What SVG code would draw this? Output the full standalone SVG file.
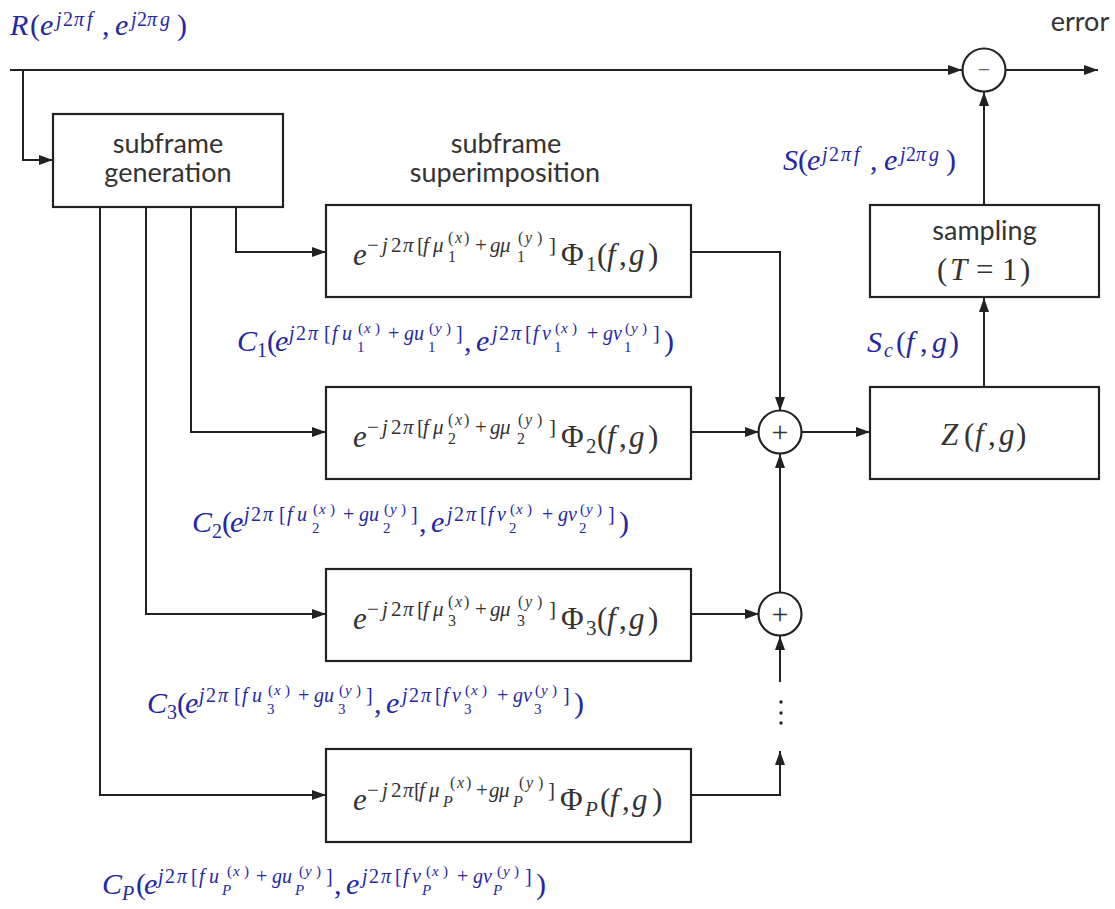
<svg xmlns="http://www.w3.org/2000/svg" width="1115" height="909" viewBox="0 0 1115 909">
<defs>
<marker id="ah" markerUnits="userSpaceOnUse" markerWidth="14" markerHeight="10" refX="14" refY="5" orient="auto">
<path d="M0,0 L14,5 L0,10 z" fill="#222"/>
</marker>
<style>
.ln{fill:none;stroke:#222;stroke-width:2}
.ar{marker-end:url(#ah)}
.box{fill:#fff;stroke:#222;stroke-width:2.2}
.ss{font-family:Lato,"Open Sans",sans-serif;font-size:27px;fill:#333;text-anchor:middle}
.mf{font-family:"Liberation Serif","Times New Roman",serif}
.i{font-style:italic}
.bx{fill:#333}
.bl{fill:#2626a6}
.bL{font-size:31px}
.bS{font-size:21px}
.bT{font-size:16px}
.lL{font-size:30px}
.lS{font-size:20px}
.lT{font-size:15px}
.sg{font-family:"Liberation Serif",serif;text-anchor:middle}
</style>
</defs>
<rect width="1115" height="909" fill="#fff"/>

<g id="connectors">
<path class="ln ar" d="M10,70 H962"/>
<path class="ln ar" d="M23,70 V160 H53"/>
<path class="ln ar" d="M1006,70 H1098"/>
<path class="ln ar" d="M984,205 V92"/>
<path class="ln ar" d="M984,387 V298"/>
<path class="ln ar" d="M802,432 H870"/>
<path class="ln ar" d="M691,252 H780 V411"/>
<path class="ln ar" d="M691,432 H759"/>
<path class="ln ar" d="M780,593 V454"/>
<path class="ln ar" d="M691,614 H759"/>
<path class="ln ar" d="M780,682 V636"/>
<path class="ln ar" d="M691,795 H780 V751"/>
<path class="ln ar" d="M236,207 V252 H326"/>
<path class="ln ar" d="M191,207 V432 H326"/>
<path class="ln ar" d="M146,207 V614 H326"/>
<path class="ln ar" d="M100,207 V795 H326"/>
<circle cx="781" cy="702" r="1.7" fill="#222"/>
<circle cx="781" cy="713" r="1.7" fill="#222"/>
<circle cx="781" cy="723" r="1.7" fill="#222"/>
</g>

<g id="node-generation">
<rect class="box" x="53" y="114" width="230" height="93"/>
<text class="ss"><tspan x="168" y="153">subframe</tspan><tspan x="168" y="182">generation</tspan></text>
</g>

<g id="heading-superimposition">
<text class="ss"><tspan x="506" y="153">subframe</tspan><tspan x="505" y="182">superimposition</tspan></text>
</g>

<g id="node-phi1">
<rect class="box" x="326" y="205" width="365" height="92"/>
<text class="mf bx"><tspan class="bL i" x="353" y="265">e</tspan><tspan class="bS" x="367" y="252">−</tspan><tspan class="bS i" x="382" y="252">j</tspan><tspan class="bS" x="391" y="252">2</tspan><tspan class="bS i" x="403" y="252">π</tspan><tspan class="bS" x="417" y="252">[</tspan><tspan class="bS i" x="423 433" y="252">fμ</tspan><tspan class="bT" x="448" y="262">1</tspan><tspan class="bT" x="448" y="243">(</tspan><tspan class="bT i" x="455" y="243">x</tspan><tspan class="bT" x="464" y="243">)</tspan><tspan class="bS" x="475" y="252">+</tspan><tspan class="bS i" x="490 500" y="252">gμ</tspan><tspan class="bT" x="517" y="262">1</tspan><tspan class="bT" x="518" y="243">(</tspan><tspan class="bT i" x="525" y="243">y</tspan><tspan class="bT" x="537" y="243">)</tspan><tspan class="bS" x="549" y="252">]</tspan><tspan class="bL" x="561" y="265">Φ</tspan><tspan class="bS" x="586" y="271">1</tspan><tspan class="bL" x="597" y="265">(</tspan><tspan class="bL i" x="607" y="265">f</tspan><tspan class="bL" x="619" y="265">,</tspan><tspan class="bL i" x="629" y="265">g</tspan><tspan class="bL" x="648" y="265">)</tspan></text>
</g>

<g id="node-phi2">
<rect class="box" x="326" y="387" width="365" height="92"/>
<text class="mf bx" transform="translate(0,182)"><tspan class="bL i" x="353" y="265">e</tspan><tspan class="bS" x="367" y="252">−</tspan><tspan class="bS i" x="382" y="252">j</tspan><tspan class="bS" x="391" y="252">2</tspan><tspan class="bS i" x="403" y="252">π</tspan><tspan class="bS" x="417" y="252">[</tspan><tspan class="bS i" x="423 433" y="252">fμ</tspan><tspan class="bT" x="448" y="262">2</tspan><tspan class="bT" x="448" y="243">(</tspan><tspan class="bT i" x="455" y="243">x</tspan><tspan class="bT" x="464" y="243">)</tspan><tspan class="bS" x="475" y="252">+</tspan><tspan class="bS i" x="490 500" y="252">gμ</tspan><tspan class="bT" x="517" y="262">2</tspan><tspan class="bT" x="518" y="243">(</tspan><tspan class="bT i" x="525" y="243">y</tspan><tspan class="bT" x="537" y="243">)</tspan><tspan class="bS" x="549" y="252">]</tspan><tspan class="bL" x="561" y="265">Φ</tspan><tspan class="bS" x="586" y="271">2</tspan><tspan class="bL" x="597" y="265">(</tspan><tspan class="bL i" x="607" y="265">f</tspan><tspan class="bL" x="619" y="265">,</tspan><tspan class="bL i" x="629" y="265">g</tspan><tspan class="bL" x="648" y="265">)</tspan></text>
</g>

<g id="node-phi3">
<rect class="box" x="326" y="569" width="365" height="92"/>
<text class="mf bx" transform="translate(0,364)"><tspan class="bL i" x="353" y="265">e</tspan><tspan class="bS" x="367" y="252">−</tspan><tspan class="bS i" x="382" y="252">j</tspan><tspan class="bS" x="391" y="252">2</tspan><tspan class="bS i" x="403" y="252">π</tspan><tspan class="bS" x="417" y="252">[</tspan><tspan class="bS i" x="423 433" y="252">fμ</tspan><tspan class="bT" x="448" y="262">3</tspan><tspan class="bT" x="448" y="243">(</tspan><tspan class="bT i" x="455" y="243">x</tspan><tspan class="bT" x="464" y="243">)</tspan><tspan class="bS" x="475" y="252">+</tspan><tspan class="bS i" x="490 500" y="252">gμ</tspan><tspan class="bT" x="517" y="262">3</tspan><tspan class="bT" x="518" y="243">(</tspan><tspan class="bT i" x="525" y="243">y</tspan><tspan class="bT" x="537" y="243">)</tspan><tspan class="bS" x="549" y="252">]</tspan><tspan class="bL" x="561" y="265">Φ</tspan><tspan class="bS" x="586" y="271">3</tspan><tspan class="bL" x="597" y="265">(</tspan><tspan class="bL i" x="607" y="265">f</tspan><tspan class="bL" x="619" y="265">,</tspan><tspan class="bL i" x="629" y="265">g</tspan><tspan class="bL" x="648" y="265">)</tspan></text>
</g>

<g id="node-phiP">
<rect class="box" x="326" y="749" width="365" height="93"/>
<text class="mf bx" transform="translate(0,545)"><tspan class="bL i" x="353" y="265">e</tspan><tspan class="bS" x="367" y="252">−</tspan><tspan class="bS i" x="382" y="252">j</tspan><tspan class="bS" x="391" y="252">2</tspan><tspan class="bS i" x="403" y="252">π</tspan><tspan class="bS" x="414" y="252">[</tspan><tspan class="bS i" x="419 429" y="252">fμ</tspan><tspan class="bT i" x="443" y="262">P</tspan><tspan class="bT" x="450" y="243">(</tspan><tspan class="bT i" x="457" y="243">x</tspan><tspan class="bT" x="466" y="243">)</tspan><tspan class="bS" x="476" y="252">+</tspan><tspan class="bS i" x="489 499" y="252">gμ</tspan><tspan class="bT i" x="513" y="262">P</tspan><tspan class="bT" x="519" y="243">(</tspan><tspan class="bT i" x="526" y="243">y</tspan><tspan class="bT" x="538" y="243">)</tspan><tspan class="bS" x="548" y="252">]</tspan><tspan class="bL" x="560" y="265">Φ</tspan><tspan class="bS i" x="585" y="271">P</tspan><tspan class="bL" x="600" y="265">(</tspan><tspan class="bL i" x="610" y="265">f</tspan><tspan class="bL" x="622" y="265">,</tspan><tspan class="bL i" x="632" y="265">g</tspan><tspan class="bL" x="652" y="265">)</tspan></text>
</g>

<g id="node-sum1">
<circle class="box" cx="780" cy="432" r="21.5"/>
<text class="sg" x="780" y="442" font-size="30" fill="#333">+</text>
</g>

<g id="node-sum2">
<circle class="box" cx="780" cy="614" r="21.5"/>
<text class="sg" x="780" y="624" font-size="30" fill="#333">+</text>
</g>

<g id="node-Z">
<rect class="box" x="870" y="387" width="229" height="92"/>
<text class="mf bx"><tspan class="bL i" x="941" y="445">Z</tspan><tspan class="bL" x="964" y="445">(</tspan><tspan class="bL i" x="975" y="445">f</tspan><tspan class="bL" x="988" y="445">,</tspan><tspan class="bL i" x="999" y="445">g</tspan><tspan class="bL" x="1016" y="445">)</tspan></text>
</g>

<g id="node-sampling">
<rect class="box" x="870" y="205" width="229" height="92"/>
<text class="ss" x="984.5" y="240">sampling</text>
<text class="mf bx"><tspan class="bL" x="937" y="280">(</tspan><tspan class="bL i" x="950" y="280">T</tspan><tspan class="bL" x="976" y="280">=</tspan><tspan class="bL" x="1002" y="280">1</tspan><tspan class="bL" x="1020" y="280">)</tspan></text>
</g>

<g id="node-minus">
<circle class="box" cx="984" cy="70" r="21.5"/>
<text class="sg" x="984" y="77" font-size="22" fill="#666">−</text>
</g>

<g id="labels">
<text class="ss" x="1080" y="31">error</text>

<text class="mf bl"><tspan class="lL i" x="10" y="35">R</tspan><tspan class="lL" x="30" y="35">(</tspan><tspan class="lL i" x="40" y="35">e</tspan><tspan class="lS i" x="56" y="26">j</tspan><tspan class="lS" x="63" y="26">2</tspan><tspan class="lS i" x="74" y="26">π</tspan><tspan class="lS i" x="87" y="26">f</tspan><tspan class="lL" x="102" y="35">,</tspan><tspan class="lL i" x="115" y="35">e</tspan><tspan class="lS i" x="131" y="26">j</tspan><tspan class="lS" x="137" y="26">2</tspan><tspan class="lS i" x="147" y="26">π</tspan><tspan class="lS i" x="160" y="26">g</tspan><tspan class="lL" x="177" y="35">)</tspan></text>

<text class="mf bl"><tspan class="lL i" x="783" y="170">S</tspan><tspan class="lL" x="798" y="170">(</tspan><tspan class="lL i" x="807" y="170">e</tspan><tspan class="lS i" x="822" y="161">j</tspan><tspan class="lS" x="829" y="161">2</tspan><tspan class="lS i" x="841" y="161">π</tspan><tspan class="lS i" x="854" y="161">f</tspan><tspan class="lL" x="870" y="170">,</tspan><tspan class="lL i" x="884" y="170">e</tspan><tspan class="lS i" x="900" y="161">j</tspan><tspan class="lS" x="906" y="161">2</tspan><tspan class="lS i" x="916" y="161">π</tspan><tspan class="lS i" x="929" y="161">g</tspan><tspan class="lL" x="946" y="170">)</tspan></text>

<text class="mf bl"><tspan class="lL i" x="867" y="352">S</tspan><tspan class="lS i" x="884" y="357">c</tspan><tspan class="lL" x="896" y="352">(</tspan><tspan class="lL i" x="906" y="352">f</tspan><tspan class="lL" x="920" y="352">,</tspan><tspan class="lL i" x="932" y="352">g</tspan><tspan class="lL" x="949" y="352">)</tspan></text>

<text class="mf bl"><tspan class="lL i" x="237" y="351">C</tspan><tspan class="lS" x="257" y="357">1</tspan><tspan class="lL" x="267" y="351">(</tspan><tspan class="lL i" x="275" y="351">e</tspan><tspan class="lS i" x="289" y="340">j</tspan><tspan class="lS" x="296" y="340">2</tspan><tspan class="lS i" x="308" y="340">π</tspan><tspan class="lS" x="324" y="340">[</tspan><tspan class="lS i" x="332 342" y="340">fu</tspan><tspan class="lT" x="357" y="352">1</tspan><tspan class="lT" x="358" y="333">(</tspan><tspan class="lT i" x="364" y="333">x</tspan><tspan class="lT" x="375" y="333">)</tspan><tspan class="lS" x="388" y="340">+</tspan><tspan class="lS i" x="404 414" y="340">gu</tspan><tspan class="lT" x="428" y="352">1</tspan><tspan class="lT" x="429" y="333">(</tspan><tspan class="lT i" x="435" y="333">y</tspan><tspan class="lT" x="446" y="333">)</tspan><tspan class="lS" x="456" y="340">]</tspan><tspan class="lL" x="464" y="351">,</tspan><tspan class="lL i" x="476" y="351">e</tspan><tspan class="lS i" x="492" y="340">j</tspan><tspan class="lS" x="499" y="340">2</tspan><tspan class="lS i" x="511" y="340">π</tspan><tspan class="lS" x="525" y="340">[</tspan><tspan class="lS i" x="533 542" y="340">fv</tspan><tspan class="lT" x="554" y="352">1</tspan><tspan class="lT" x="555" y="333">(</tspan><tspan class="lT i" x="561" y="333">x</tspan><tspan class="lT" x="572" y="333">)</tspan><tspan class="lS" x="587" y="340">+</tspan><tspan class="lS i" x="603 613" y="340">gv</tspan><tspan class="lT" x="624" y="352">1</tspan><tspan class="lT" x="625" y="333">(</tspan><tspan class="lT i" x="631" y="333">y</tspan><tspan class="lT" x="642" y="333">)</tspan><tspan class="lS" x="653" y="340">]</tspan><tspan class="lL" x="664" y="351">)</tspan></text>

<text class="mf bl" transform="translate(-45,181)"><tspan class="lL i" x="237" y="351">C</tspan><tspan class="lS" x="257" y="357">2</tspan><tspan class="lL" x="267" y="351">(</tspan><tspan class="lL i" x="275" y="351">e</tspan><tspan class="lS i" x="289" y="340">j</tspan><tspan class="lS" x="296" y="340">2</tspan><tspan class="lS i" x="308" y="340">π</tspan><tspan class="lS" x="324" y="340">[</tspan><tspan class="lS i" x="332 342" y="340">fu</tspan><tspan class="lT" x="357" y="352">2</tspan><tspan class="lT" x="358" y="333">(</tspan><tspan class="lT i" x="364" y="333">x</tspan><tspan class="lT" x="375" y="333">)</tspan><tspan class="lS" x="388" y="340">+</tspan><tspan class="lS i" x="404 414" y="340">gu</tspan><tspan class="lT" x="428" y="352">2</tspan><tspan class="lT" x="429" y="333">(</tspan><tspan class="lT i" x="435" y="333">y</tspan><tspan class="lT" x="446" y="333">)</tspan><tspan class="lS" x="456" y="340">]</tspan><tspan class="lL" x="464" y="351">,</tspan><tspan class="lL i" x="476" y="351">e</tspan><tspan class="lS i" x="492" y="340">j</tspan><tspan class="lS" x="499" y="340">2</tspan><tspan class="lS i" x="511" y="340">π</tspan><tspan class="lS" x="525" y="340">[</tspan><tspan class="lS i" x="533 542" y="340">fv</tspan><tspan class="lT" x="554" y="352">2</tspan><tspan class="lT" x="555" y="333">(</tspan><tspan class="lT i" x="561" y="333">x</tspan><tspan class="lT" x="572" y="333">)</tspan><tspan class="lS" x="587" y="340">+</tspan><tspan class="lS i" x="603 613" y="340">gv</tspan><tspan class="lT" x="624" y="352">2</tspan><tspan class="lT" x="625" y="333">(</tspan><tspan class="lT i" x="631" y="333">y</tspan><tspan class="lT" x="642" y="333">)</tspan><tspan class="lS" x="653" y="340">]</tspan><tspan class="lL" x="664" y="351">)</tspan></text>

<text class="mf bl" transform="translate(-90,362)"><tspan class="lL i" x="237" y="351">C</tspan><tspan class="lS" x="257" y="357">3</tspan><tspan class="lL" x="267" y="351">(</tspan><tspan class="lL i" x="275" y="351">e</tspan><tspan class="lS i" x="289" y="340">j</tspan><tspan class="lS" x="296" y="340">2</tspan><tspan class="lS i" x="308" y="340">π</tspan><tspan class="lS" x="324" y="340">[</tspan><tspan class="lS i" x="332 342" y="340">fu</tspan><tspan class="lT" x="357" y="352">3</tspan><tspan class="lT" x="358" y="333">(</tspan><tspan class="lT i" x="364" y="333">x</tspan><tspan class="lT" x="375" y="333">)</tspan><tspan class="lS" x="388" y="340">+</tspan><tspan class="lS i" x="404 414" y="340">gu</tspan><tspan class="lT" x="428" y="352">3</tspan><tspan class="lT" x="429" y="333">(</tspan><tspan class="lT i" x="435" y="333">y</tspan><tspan class="lT" x="446" y="333">)</tspan><tspan class="lS" x="456" y="340">]</tspan><tspan class="lL" x="464" y="351">,</tspan><tspan class="lL i" x="476" y="351">e</tspan><tspan class="lS i" x="492" y="340">j</tspan><tspan class="lS" x="499" y="340">2</tspan><tspan class="lS i" x="511" y="340">π</tspan><tspan class="lS" x="525" y="340">[</tspan><tspan class="lS i" x="533 542" y="340">fv</tspan><tspan class="lT" x="554" y="352">3</tspan><tspan class="lT" x="555" y="333">(</tspan><tspan class="lT i" x="561" y="333">x</tspan><tspan class="lT" x="572" y="333">)</tspan><tspan class="lS" x="587" y="340">+</tspan><tspan class="lS i" x="603 613" y="340">gv</tspan><tspan class="lT" x="624" y="352">3</tspan><tspan class="lT" x="625" y="333">(</tspan><tspan class="lT i" x="631" y="333">y</tspan><tspan class="lT" x="642" y="333">)</tspan><tspan class="lS" x="653" y="340">]</tspan><tspan class="lL" x="664" y="351">)</tspan></text>

<text class="mf bl" transform="translate(-135,543)"><tspan class="lL i" x="237" y="351">C</tspan><tspan class="lS i" x="257" y="357">P</tspan><tspan class="lL" x="271" y="351">(</tspan><tspan class="lL i" x="279" y="351">e</tspan><tspan class="lS i" x="293" y="340">j</tspan><tspan class="lS" x="300" y="340">2</tspan><tspan class="lS i" x="312" y="340">π</tspan><tspan class="lS" x="326" y="340">[</tspan><tspan class="lS i" x="334 344" y="340">fu</tspan><tspan class="lT i" x="357" y="352">P</tspan><tspan class="lT" x="362" y="333">(</tspan><tspan class="lT i" x="368" y="333">x</tspan><tspan class="lT" x="379" y="333">)</tspan><tspan class="lS" x="391" y="340">+</tspan><tspan class="lS i" x="407 417" y="340">gu</tspan><tspan class="lT i" x="430" y="352">P</tspan><tspan class="lT" x="434" y="333">(</tspan><tspan class="lT i" x="440" y="333">y</tspan><tspan class="lT" x="451" y="333">)</tspan><tspan class="lS" x="461" y="340">]</tspan><tspan class="lL" x="469" y="351">,</tspan><tspan class="lL i" x="481" y="351">e</tspan><tspan class="lS i" x="497" y="340">j</tspan><tspan class="lS" x="504" y="340">2</tspan><tspan class="lS i" x="516" y="340">π</tspan><tspan class="lS" x="530" y="340">[</tspan><tspan class="lS i" x="538 547" y="340">fv</tspan><tspan class="lT i" x="557" y="352">P</tspan><tspan class="lT" x="561" y="333">(</tspan><tspan class="lT i" x="567" y="333">x</tspan><tspan class="lT" x="578" y="333">)</tspan><tspan class="lS" x="592" y="340">+</tspan><tspan class="lS i" x="608 618" y="340">gv</tspan><tspan class="lT i" x="628" y="352">P</tspan><tspan class="lT" x="632" y="333">(</tspan><tspan class="lT i" x="638" y="333">y</tspan><tspan class="lT" x="649" y="333">)</tspan><tspan class="lS" x="660" y="340">]</tspan><tspan class="lL" x="671" y="351">)</tspan></text>
</g>
</svg>
